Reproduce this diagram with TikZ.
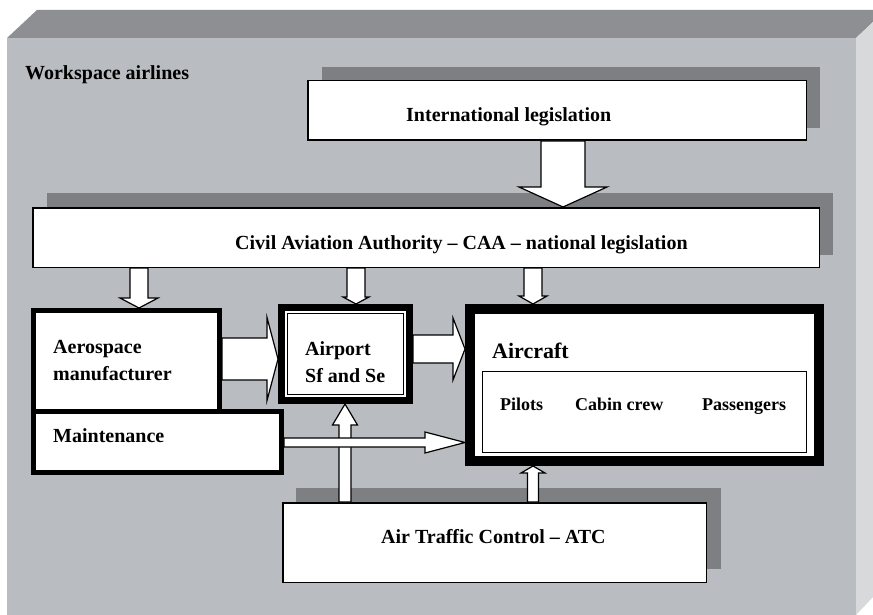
\documentclass[tikz,border=0pt]{standalone}
\usepackage{fontspec}
\setmainfont{Liberation Serif}
\usetikzlibrary{calc}
\definecolor{topface}{HTML}{8E8F93}
\definecolor{frontface}{HTML}{B9BCC0}
\definecolor{sideface}{HTML}{D8D9DB}
\definecolor{shadowgray}{HTML}{7E7F83}
\tikzset{
  box/.style={draw=black, fill=white, line width=1.5pt, inner sep=0pt, anchor=north west},
  heavybox/.style={box, line width=#1},
  shadowbox/.style={fill=shadowgray, draw=none},
  lbl/.style={font=\bfseries\fontsize{20}{24}\selectfont, inner sep=0pt, anchor=base west, text=black},
  smalllbl/.style={lbl, font=\bfseries\fontsize{18}{22}\selectfont},
  biglbl/.style={lbl, font=\bfseries\fontsize{22}{26}\selectfont},
  barrowstyle/.style={draw=black, fill=white, line width=1.2pt, line join=miter},
}
% block arrow: #1 start, #2 tip, #3 shaft half width, #4 head half width, #5 head length
\newcommand\blockarrow[5]{%
  \filldraw[barrowstyle]
    ($(#1)!#3!90:(#2)$) --
    ($($(#2)!#5!(#1)$)!#3!-90:(#1)$) --
    ($($(#2)!#5!(#1)$)!#4!-90:(#1)$) --
    (#2) --
    ($($(#2)!#5!(#1)$)!#4!90:(#1)$) --
    ($($(#2)!#5!(#1)$)!#3!90:(#1)$) --
    ($(#1)!#3!-90:(#2)$) -- cycle;
}
\begin{document}
\begin{tikzpicture}[x=1pt, y=-1pt]
\useasboundingbox (0,0) rectangle (873,615);
\fill[white] (0,0) rectangle (873,615);
% workspace block
\fill[frontface] (7,38) rectangle (856,615);
\fill[topface] (7,38) -- (37,10) -- (873,10) -- (873,22) -- (856,38) -- cycle;
\fill[sideface] (856,38) -- (873,22) -- (873,597) -- (856,615) -- cycle;

% shadows
\fill[shadowbox] (322,67) rectangle (820,128);
\fill[shadowbox] (47,193) rectangle (833,255);
\fill[shadowbox] (296,488) rectangle (721,569);

% boxes (placed by their outer corner)
\node[box, minimum width=498.5pt, minimum height=59.5pt] (intl) at (307,80) {};
\node[box, minimum width=786.5pt, minimum height=59.5pt] (caa) at (32,207) {};
\node[box, minimum width=423.5pt, minimum height=79.5pt] (atc) at (282,502) {};
\node[heavybox=5pt, minimum width=186pt, minimum height=101pt] (aero) at (31,308) {};
\node[heavybox=5pt, minimum width=248pt, minimum height=61pt] (maint) at (31,409) {};
\node[heavybox=7pt, minimum width=128pt, minimum height=93pt] (airport) at (278,304) {};
\node[box, line width=1.3pt, fill=none, minimum width=115.7pt, minimum height=80.7pt] (airportin) at (287,313) {};
\node[heavybox=10pt, minimum width=349pt, minimum height=152pt] (aircraft) at (465,304) {};
\node[box, line width=1.3pt, minimum width=323.7pt, minimum height=80.7pt] (crew) at (482,371) {};

% arrow end points
\coordinate (a1s) at (563,0 |- intl.south);
\coordinate (a1e) at (563,0 |- caa.north);
\coordinate (a2s) at (139,0 |- caa.south);
\coordinate (a2e) at (139,0 |- aero.north);
\coordinate (a3s) at (356,0 |- caa.south);
\coordinate (a3e) at (356,0 |- airport.north);
\coordinate (a4s) at (533,0 |- caa.south);
\coordinate (a4e) at (533,0 |- aircraft.north);
\coordinate (a5s) at (aero.east |- 0,359);
\coordinate (a5e) at (airport.west |- 0,359);
\coordinate (a6s) at (airport.east |- 0,349);
\coordinate (a6e) at (aircraft.west |- 0,349);
\coordinate (a8s) at (345,0 |- atc.north);
\coordinate (a8e) at (345,0 |- airport.south);
\coordinate (a9s) at (533,0 |- atc.north);
\coordinate (a9e) at (533,0 |- aircraft.south);
\coordinate (a7s) at (maint.east |- 0,442.5);
\coordinate (a7e) at (aircraft.west |- 0,442.5);

\blockarrow{a1s}{a1e}{22pt}{44pt}{20pt}
\blockarrow{a2s}{a2e}{9pt}{19pt}{10pt}
\blockarrow{a3s}{a3e}{9pt}{13pt}{7pt}
\blockarrow{a4s}{a4e}{9pt}{14pt}{8pt}
\blockarrow{a5s}{a5e}{21pt}{41.5pt}{11pt}
\blockarrow{a6s}{a6e}{14pt}{31pt}{12pt}
\blockarrow{a8s}{a8e}{6pt}{12.5pt}{21pt}
\blockarrow{a9s}{a9e}{5.5pt}{12pt}{7pt}
\blockarrow{a7s}{a7e}{4.5pt}{10.5pt}{40pt}

% labels
\node[lbl] (tws) at (25,80) {Workspace airlines};
\node[lbl] (tintl) at (406,122) {International legislation};
\node[lbl] (tcaa) at (235,249) {Civil Aviation Authority – CAA – national legislation};
\node[lbl] (taero1) at (53,353) {Aerospace};
\node[lbl] (taero2) at (53,380) {manufacturer};
\node[lbl] (tmaint) at (53,442) {Maintenance};
\node[lbl] (tair1) at (305,355) {Airport};
\node[lbl] (tair2) at (305,382) {Sf and Se};
\node[biglbl] (tac) at (492,358) {Aircraft};
\node[smalllbl] (tpil) at (500,410) {Pilots};
\node[smalllbl] (tcab) at (575,410) {Cabin crew};
\node[smalllbl] (tpas) at (702,410) {Passengers};
\node[lbl] (tatc) at (381,543) {Air Traffic Control – ATC};
\end{tikzpicture}
\end{document}
